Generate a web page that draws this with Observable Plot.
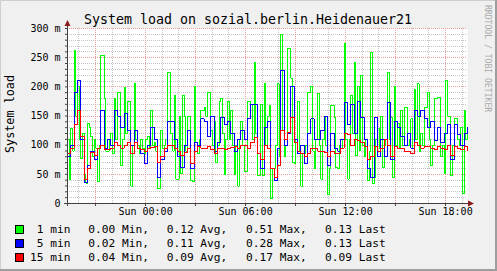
<!DOCTYPE html>
<html><head><meta charset="utf-8">
<script src="https://cdn.jsdelivr.net/npm/d3@7"></script>
<script src="https://cdn.jsdelivr.net/npm/@observablehq/plot@0.6"></script>
<style>
html,body{margin:0;padding:0;background:#f0f0f0;}
#wrap{position:relative;width:497px;height:271px;background:#f0f0f0;overflow:hidden;box-sizing:border-box;}
#wrap svg{position:absolute;left:0;top:0;}
</style></head>
<body><div id="wrap"></div>
<script>
// ---- data (values in milli-load) ----
// 1 min load: one sample every 6 minutes
const load1 = [110,42, 128,90, 262,150, 200,110, 77,120, 50,35, 137,130, 115,80, 110,95, 37,100,
 254,254, 180,90, 90,110, 120,85, 180,110, 190,190, 65,110, 199,120, 175,175, 30,100,
 205,110, 100,85, 110,95, 85,110, 115,95, 160,100, 105,90, 25,25, 125,95, 100,110,
 225,225, 120,90, 185,42, 42,150, 51,185, 150,90, 150,150, 40,37, 200,105, 85,110,
 160,160, 165,150, 190,190, 125,100, 140,70, 100,175, 180,120, 50,110, 175,110, 160,100,
 50,100, 30,110, 140,100, 55,55, 175,175, 170,110, 242,120, 48,48, 170,48, 205,100,
 150,168, 8,60, 60,100, 205,80, 290,125, 80,100, 265,265, 215,70, 68,110, 175,90,
 30,85, 85,100, 190,190, 200,90, 60,110, 188,100, 42,110, 150,100, 15,60, 168,168,
 148,62, 60,100, 110,95, 274,110, 42,110, 185,120, 242,82, 200,91, 220,100, 80,110,
 40,90, 259,34, 45,110, 128,95, 150,62, 100,110, 225,110, 148,45, 200,100, 137,95,
 160,100, 165,165, 100,110, 145,95, 195,110, 205,90, 120,100, 165,165, 190,110, 65,100,
 180,180, 182,182, 80,100, 51,211, 150,150, 48,100, 145,145, 110,100, 131,17, 160,110,
 130];
// 5 and 15 min load: one sample every 12 minutes
const load5 = [80,100,190,211,110,36,65,90,75,95,160,95,110,100,160,150,130,155,125,100,125,95,85,68,100,130,110,45,75,90,140,
 140,110,80,62,100,125,60,105,100,145,140,115,150,90,105,148,135,140,120,90,110,125,110,145,170,170,85,60,130,140,
 60,40,95,228,100,120,200,110,85,100,68,120,145,110,110,125,150,65,120,95,90,110,174,135,170,120,175,148,110,60,
 45,148,80,110,80,174,75,140,130,115,100,120,95,160,150,160,145,130,140,108,130,105,120,135,75,135,118,100,120,130];
const load15 = [85,95,135,160,115,42,60,88,82,95,100,92,92,95,105,100,95,100,105,85,105,95,92,90,95,96,97,70,80,95,100,
 100,95,90,82,88,95,68,90,97,95,95,97,92,85,95,95,92,95,96,97,95,99,100,95,105,114,85,75,99,95,
 60,45,65,125,110,122,148,105,90,85,80,85,95,95,90,90,88,80,90,85,86,95,120,118,100,110,108,105,97,75,
 80,97,90,95,110,100,80,98,95,95,90,90,86,105,100,95,97,98,95,92,97,95,92,100,82,97,95,92,97,90];

const seriesNames = ["1 min", "5 min", "15 min"];
const seriesColors = ["#00ff00", "#0000ff", "#ff0000"];
const seriesStepMinutes = [6, 12, 12];
const statMin = ["0.00", "0.02", "0.04"];
const statAvg = ["0.12", "0.11", "0.09"];
const statMax = ["0.51", "0.28", "0.17"];
const statLast = ["0.13", "0.13", "0.09"];

const startTime = Date.UTC(2024, 0, 6, 19, 19);   // Sat 19:19
const endTime = Date.UTC(2024, 0, 7, 19, 19);     // Sun 19:19

const xTickTimes = [Date.UTC(2024,0,7,0), Date.UTC(2024,0,7,6), Date.UTC(2024,0,7,12), Date.UTC(2024,0,7,18)];
const xTickLabels = ["Sun 00:00", "Sun 06:00", "Sun 12:00", "Sun 18:00"];
const yTickValues = [0, 50, 100, 150, 200, 250, 300];
const yTickLabels = ["0", "50 m", "100 m", "150 m", "200 m", "250 m", "300 m"];

const titleText = "System load on sozial.berlin.Heidenauer21";
const yLabel = "System load";
const watermark = "RRDTOOL / TOBI OETIKER";

// ---- build tables ----
const allSeries = [load1, load5, load15];
const tables = allSeries.map((arr, s) => arr.map((v, i) => ({t: new Date(startTime + i * seriesStepMinutes[s] * 60000), v})));

const hourTicks = d3.utcHour.range(new Date(startTime), new Date(endTime));
const majorX = hourTicks.filter(d => d.getUTCHours() % 3 === 0);
const minorX = hourTicks.filter(d => d.getUTCHours() % 3 !== 0);
const minorY = d3.range(10, 300, 10).filter(d => d % 50 !== 0);
const majorY = yTickValues;

const mono = "DejaVu Sans Mono";
const chart = Plot.plot({
  width: 497, height: 271,
  marginLeft: 67, marginRight: 30, marginTop: 28, marginBottom: 68,
  style: {background: "transparent", fontFamily: mono, fontSize: "10px", color: "#000", overflow: "visible"},
  x: {type: "utc", domain: [new Date(startTime), new Date(endTime)], label: null},
  y: {domain: [0, 300], label: null},
  marks: [
    Plot.frame({fill: "#ffffff", stroke: null}),
    Plot.ruleY(minorY, {stroke: "#c4c4c4", strokeDasharray: "1,1", shapeRendering: "crispEdges"}),
    Plot.ruleX(minorX, {stroke: "#c4c4c4", strokeDasharray: "1,1", shapeRendering: "crispEdges"}),
    Plot.ruleY(majorY, {stroke: "#ee9a9a", strokeDasharray: "1,1", shapeRendering: "crispEdges"}),
    Plot.ruleX(majorX, {stroke: "#ee9a9a", strokeDasharray: "1,1", shapeRendering: "crispEdges"}),
    Plot.axisY({ticks: yTickValues, tickFormat: d => yTickLabels[yTickValues.indexOf(d)], tickSize: 0, tickPadding: 7, fontSize: 10, fontFamily: mono, fill: "#000", label: null}),
    Plot.axisY({ticks: d3.range(0, 301, 10), tickSize: 2, text: null, stroke: "#404040", label: null}),
    Plot.axisX({ticks: xTickTimes, tickFormat: d => xTickLabels[xTickTimes.indexOf(+d)], tickSize: 0, tickPadding: 4, fontSize: 10, fontFamily: mono, fill: "#000", label: null}),
    Plot.axisX({ticks: majorX, tickSize: 3, text: null, stroke: "#404040", label: null}),
    ...tables.map((tab, s) => Plot.line(tab, {x: "t", y: "v", stroke: seriesColors[s], strokeWidth: 1, curve: "step-after", shapeRendering: "crispEdges"}))
  ]
});
document.getElementById("wrap").appendChild(chart);

// ---- decorations via the chart's scales ----
const svg = d3.select(chart);
const xs = chart.scale("x"), ys = chart.scale("y");
const X0 = Math.round(xs.apply(new Date(startTime))), X1 = Math.round(xs.apply(new Date(endTime)));
const Y0 = Math.round(ys.apply(0)), YT = Math.round(ys.apply(300));
const g = svg.append("g").attr("text-anchor", "start");
g.append("line").attr("x1", X0 - 3).attr("x2", X1 + 2).attr("y1", Y0 + 0.5).attr("y2", Y0 + 0.5).attr("stroke", "#404040");
g.append("line").attr("x1", X0 + 0.5).attr("x2", X0 + 0.5).attr("y1", Y0 + 3).attr("y2", YT - 3).attr("stroke", "#404040");
g.append("path").attr("d", `M${X1 + 1},${Y0 - 2.5}L${X1 + 7},${Y0 + 0.5}L${X1 + 1},${Y0 + 3.5}Z`).attr("fill", "#8b1c1c");
g.append("path").attr("d", `M${X0 - 2.5},${YT - 2}L${X0 + 0.5},${YT - 8}L${X0 + 3.5},${YT - 2}Z`).attr("fill", "#8b1c1c");

// title
g.append("text").attr("x", 248).attr("y", 24).attr("text-anchor", "middle")
  .attr("font-family", mono).attr("font-size", 13.3).attr("fill", "#000").text(titleText);
// y label
g.append("text").attr("transform", "translate(14,114) rotate(-90)").attr("text-anchor", "middle")
  .attr("font-family", mono).attr("font-size", 11.8).attr("fill", "#000").text(yLabel);
// watermark
g.append("text").attr("transform", "translate(485,5) rotate(90)").attr("text-anchor", "start")
  .attr("font-family", mono).attr("font-size", 8.1).attr("fill", "#aaaaaa").text(watermark);

// legend
const rowY = [233, 247, 261];
const NB = "\u00a0";
seriesNames.forEach((name, i) => {
  g.append("rect").attr("x", 15.5).attr("y", rowY[i] - 7.5).attr("width", 8).attr("height", 8)
    .attr("fill", seriesColors[i]).attr("stroke", "#000").attr("stroke-width", 1);
  const parts = [
    [30, name.padStart(6, NB)],
    [88.3, statMin[i] + NB + "Min,"],
    [166.7, statAvg[i] + NB + "Avg,"],
    [246, statMax[i] + NB + "Max,"],
    [325, statLast[i] + NB + "Last"]
  ];
  parts.forEach(([x, s]) => g.append("text").attr("x", x).attr("y", rowY[i]).attr("text-anchor", "start")
    .attr("font-family", mono).attr("font-size", 11.2).attr("fill", "#000").text(s.replace(/ /g, NB)));
});

// 3D border
const W = 497, H = 271;
g.append("path").attr("d", `M0.5,${H}V0.5H${W}`).attr("fill", "none").attr("stroke", "#cfcfcf").attr("stroke-width", 1);
g.append("path").attr("d", `M${W - 1},0V${H - 1}H0`).attr("fill", "none").attr("stroke", "#9e9e9e").attr("stroke-width", 2);
</script></body></html>
